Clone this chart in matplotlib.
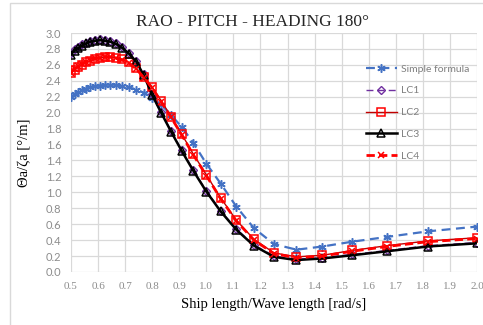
import matplotlib
matplotlib.use('Agg')
from matplotlib import pyplot as plt
from matplotlib.patches import Rectangle

# ship length / wave length ratio
ratio = [0.5, 0.513, 0.526, 0.541, 0.556, 0.571, 0.588, 0.606, 0.625, 0.645,
         0.667, 0.690, 0.714, 0.741, 0.769, 0.800, 0.833, 0.870, 0.909, 0.952,
         1.0, 1.053, 1.111, 1.176, 1.25, 1.333, 1.429, 1.538, 1.667, 1.818, 2.0]

simple_formula = [2.20, 2.23, 2.26, 2.28, 2.30, 2.32, 2.33, 2.34, 2.35, 2.35,
                  2.35, 2.34, 2.32, 2.29, 2.25, 2.19, 2.10, 1.97, 1.82, 1.62,
                  1.36, 1.11, 0.82, 0.55, 0.35, 0.28, 0.32, 0.38, 0.44, 0.51, 0.57]
lc1 = [2.75, 2.80, 2.83, 2.86, 2.88, 2.90, 2.91, 2.92, 2.91, 2.90,
       2.87, 2.82, 2.75, 2.65, 2.48, 2.23, 2.01, 1.77, 1.53, 1.28,
       1.02, 0.77, 0.54, 0.34, 0.20, 0.16, 0.18, 0.22, 0.27, 0.33, 0.37]
lc2 = [2.50, 2.54, 2.57, 2.60, 2.63, 2.65, 2.67, 2.69, 2.70, 2.70,
       2.69, 2.67, 2.63, 2.56, 2.45, 2.32, 2.15, 1.95, 1.73, 1.48,
       1.22, 0.93, 0.65, 0.41, 0.24, 0.19, 0.21, 0.27, 0.33, 0.39, 0.43]
lc3 = [2.73, 2.78, 2.81, 2.84, 2.87, 2.89, 2.90, 2.91, 2.90, 2.89,
       2.86, 2.81, 2.74, 2.64, 2.47, 2.22, 2.00, 1.76, 1.52, 1.27,
       1.01, 0.76, 0.53, 0.33, 0.19, 0.15, 0.17, 0.21, 0.26, 0.32, 0.36]
lc4 = [2.50, 2.55, 2.58, 2.61, 2.64, 2.66, 2.68, 2.69, 2.70, 2.70,
       2.68, 2.66, 2.62, 2.55, 2.44, 2.31, 2.14, 1.94, 1.72, 1.47,
       1.21, 0.92, 0.64, 0.40, 0.23, 0.18, 0.20, 0.26, 0.32, 0.38, 0.42]

x_ticks = [round(0.5 + 0.1 * i, 1) for i in range(16)]
y_ticks = [round(0.2 * i, 1) for i in range(16)]

fig = plt.figure(figsize=(4.83, 3.25), dpi=100)
ax = fig.add_axes([71 / 483, 1 - 272 / 325, 406 / 483, 239 / 325])

# chart area border
fig.patches.append(Rectangle((10 / 483, -0.1), 1.2, 1.1 - 3 / 325,
                             transform=fig.transFigure, fill=False,
                             edgecolor='#d9d9d9', linewidth=1))

ax.plot(ratio, simple_formula, color='#4472c4', lw=1.6, ls=(0, (4, 2.5)),
        marker=(6, 2, 0), ms=6, mew=1.1, label='Simple formula')
ax.plot(ratio, lc1, color='#7030a0', lw=1, ls=(0, (5, 3)),
        marker='D', ms=4, mfc='none', mew=1, label='LC1')
ax.plot(ratio, lc2, color='#c00000', lw=1, marker='s', ms=6, mfc='none',
        mec='#ff0000', mew=1.1, label='LC2')
ax.plot(ratio, lc3, color='black', lw=1.8, marker='^', ms=6, mfc='none',
        mew=1.1, label='LC3')
ax.plot(ratio, lc4, color='#ff0000', lw=2, ls=(0, (3, 1.5)), marker='x',
        ms=5, mew=1.1, label='LC4')

ax.set_xlim(0.5, 2.0)
ax.set_ylim(0, 3.0)
ax.set_xticks(x_ticks)
ax.set_yticks(y_ticks)
ax.set_xticklabels(['%.1f' % t for t in x_ticks], family='Liberation Serif',
                   fontsize=8, color='#8c8c8c')
ax.set_yticklabels(['%.1f' % t for t in y_ticks], family='Lato',
                   fontsize=8, color='#8c8c8c')
ax.tick_params(length=0, pad=7)
ax.grid(True, color='#d9d9d9', lw=0.9)
ax.set_axisbelow(True)
for s in ax.spines.values():
    s.set_visible(False)

ax.set_xlabel('Ship length/Wave length [rad/s]', family='Liberation Serif',
              fontsize=10.5, labelpad=5)
ax.set_ylabel('Θa/ζa [°/m]', family='Liberation Serif', fontsize=10.5,
              labelpad=10)
fig.text(252 / 483, 1 - 22 / 325, 'RAO - PITCH - HEADING 180°',
         family='Liberation Serif', fontsize=12.5, ha='center', va='center',
         color='#262626')

leg = ax.legend(loc='upper left', bbox_to_anchor=(357 / 483, 1 - 55 / 325),
                bbox_transform=fig.transFigure, frameon=False,
                handlelength=2.9, labelspacing=1.2, handletextpad=0.4,
                prop={'family': 'Lato', 'size': 7.5})
for t in leg.get_texts():
    t.set_color('#7f7f7f')

fig.savefig('out.png', dpi=100)
